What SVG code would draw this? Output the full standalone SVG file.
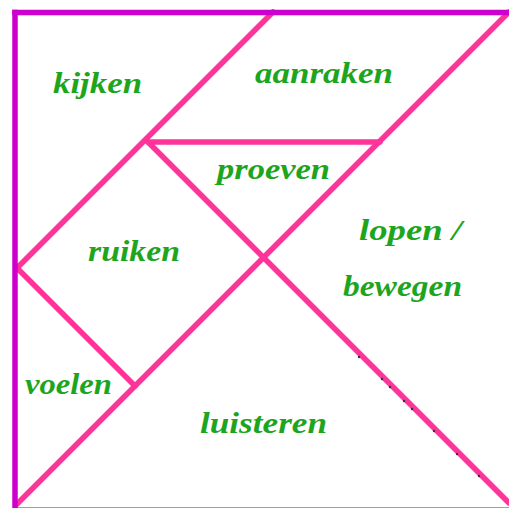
<svg xmlns="http://www.w3.org/2000/svg" width="509" height="508" viewBox="0 0 509 508">
<style>
.frame{stroke:#cc00cc;stroke-width:5.5;fill:none;stroke-linecap:square}
.cut{stroke:#ff3399;stroke-width:5.5;fill:none;stroke-linecap:round}
.lbl{font-family:"Liberation Serif",serif;font-style:italic;font-weight:bold;font-size:30px;fill:#1ea51e}
.dot{fill:#333}
</style>
<rect width="509" height="508" fill="#ffffff"/>
<line x1="17" y1="507.5" x2="509" y2="507.5" stroke="#a0a0a0" stroke-width="1"/>
<g id="connectors">
<line class="cut" x1="273" y1="12" x2="17" y2="268"/>
<line class="cut" x1="509" y1="12" x2="17" y2="504"/>
<line class="cut" x1="148" y1="142" x2="380" y2="142"/>
<line class="cut" x1="148" y1="142" x2="509" y2="503"/>
<line class="cut" x1="17" y1="268" x2="135" y2="386"/>
</g>
<g id="frame">
<line class="frame" x1="15" y1="12.5" x2="509" y2="12.5"/>
<line class="frame" x1="15" y1="12.5" x2="15" y2="508"/>
</g>
<g id="dots">
<circle class="dot" cx="359" cy="357" r="1.2"/>
<circle class="dot" cx="382" cy="379" r="1.2"/>
<circle class="dot" cx="390" cy="387" r="1.2"/>
<circle class="dot" cx="404" cy="401" r="1.2"/>
<circle class="dot" cx="412" cy="409" r="1.2"/>
<circle class="dot" cx="434" cy="431" r="1.2"/>
<circle class="dot" cx="457" cy="454" r="1.2"/>
<circle class="dot" cx="479" cy="476" r="1.2"/>
</g>
<g id="kijken"><text class="lbl" x="53" y="93" textLength="89" lengthAdjust="spacingAndGlyphs">kijken</text></g>
<g id="aanraken"><text class="lbl" x="255" y="83" textLength="138" lengthAdjust="spacingAndGlyphs">aanraken</text></g>
<g id="proeven"><text class="lbl" x="217" y="179" textLength="113" lengthAdjust="spacingAndGlyphs">proeven</text></g>
<g id="ruiken"><text class="lbl" x="88" y="261" textLength="92" lengthAdjust="spacingAndGlyphs">ruiken</text></g>
<g id="lopen"><text class="lbl" x="359" y="240" textLength="103" lengthAdjust="spacingAndGlyphs">lopen /</text>
<text class="lbl" x="343" y="296" textLength="119" lengthAdjust="spacingAndGlyphs">bewegen</text></g>
<g id="voelen"><text class="lbl" x="25" y="394" textLength="87" lengthAdjust="spacingAndGlyphs">voelen</text></g>
<g id="luisteren"><text class="lbl" x="200" y="433" textLength="127" lengthAdjust="spacingAndGlyphs">luisteren</text></g>
</svg>
